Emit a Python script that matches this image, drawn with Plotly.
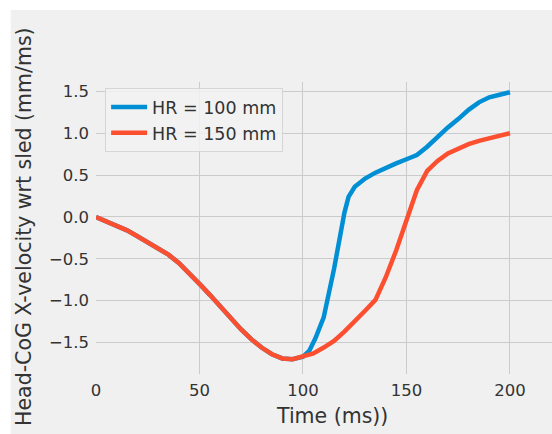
import plotly.graph_objects as go

# ---- data ----
t_red = [0, 5, 10, 15, 20, 25, 30, 35, 40, 45, 50, 55, 60, 65, 70, 75, 80, 85, 90, 95,
         100, 105, 110, 115, 120, 125, 130, 135, 140, 145, 150, 155, 160, 165, 170, 175,
         180, 185, 190, 195, 200]
v_red = [0.00, -0.05, -0.10, -0.16, -0.23, -0.30, -0.37, -0.45, -0.55, -0.67, -0.80, -0.93,
         -1.07, -1.21, -1.34, -1.46, -1.56, -1.64, -1.69, -1.70,
         -1.67, -1.63, -1.56, -1.48, -1.37, -1.25, -1.12, -0.99, -0.72, -0.40, -0.04, 0.32,
         0.55, 0.67, 0.76, 0.82, 0.87, 0.91, 0.94, 0.97, 1.00]

t_blue = [0, 5, 10, 15, 20, 25, 30, 35, 40, 45, 50, 55, 60, 65, 70, 75, 80, 85, 90, 95,
          100, 103, 106, 110, 115, 120, 122, 125, 130, 135, 140, 145, 150, 155, 160, 165,
          170, 175, 180, 185, 190, 195, 200]
v_blue = [0.00, -0.05, -0.10, -0.16, -0.23, -0.30, -0.37, -0.45, -0.55, -0.67, -0.80, -0.93,
          -1.07, -1.21, -1.34, -1.46, -1.56, -1.64, -1.69, -1.70,
          -1.67, -1.60, -1.45, -1.20, -0.62, 0.05, 0.24, 0.36, 0.46, 0.53, 0.59, 0.64, 0.69,
          0.74, 0.84, 0.96, 1.07, 1.17, 1.28, 1.37, 1.43, 1.46, 1.49]

series_names = ["HR = 100 mm", "HR = 150 mm"]
x_ticks = [0, 50, 100, 150, 200]
y_ticks = [-1.5, -1.0, -0.5, 0.0, 0.5, 1.0, 1.5]
y_tick_labels = ["\u22121.5", "\u22121.0", "\u22120.5", "0.0", "0.5", "1.0", "1.5"]
x_title = "Time (ms))"
y_title = "Head-CoG X-velocity wrt sled (mm/ms)"

BG = "#f0f0f0"
GRID = "#cbcbcb"
TXT = "#333333"
FONT = "DejaVu Sans"

fig = go.Figure()
fig.add_trace(go.Scatter(x=t_blue, y=v_blue, mode="lines", name=series_names[0],
                         legendgroup="a",
                         line=dict(color="#008fd5", width=4.5)))
fig.add_trace(go.Scatter(x=t_red, y=v_red, mode="lines", name=series_names[1],
                         legendgroup="b",
                         line=dict(color="#fc4f30", width=4.5)))

fig.update_layout(
    width=552, height=434,
    margin=dict(l=96, r=0, t=82, b=60),
    paper_bgcolor=BG, plot_bgcolor=BG,
    font=dict(family=FONT, color=TXT, size=16.5),
    showlegend=True,
    legend=dict(x=0.02, y=0.979, xanchor="left", yanchor="top",
                bgcolor="rgba(242,242,242,0.85)", bordercolor="#d6d6d6", borderwidth=1,
                font=dict(size=17.5, family=FONT, color=TXT),
                tracegroupgap=0, itemwidth=36),
    xaxis=dict(range=[0, 220.3], tickvals=x_ticks, showgrid=False, zeroline=False,
               showline=False, ticks="", ticklabelstandoff=4,
               tickfont=dict(size=16.5, family=FONT, color=TXT),
               minor=dict(tickvals=x_ticks[1:], showgrid=True, gridcolor=GRID,
                          gridwidth=1, ticks="")),
    yaxis=dict(range=[-1.876, 1.613], tickvals=y_ticks, ticktext=y_tick_labels,
               showgrid=True, gridcolor=GRID, gridwidth=1, zeroline=False,
               showline=False, ticks="", ticklabelstandoff=6,
               tickfont=dict(size=16.5, family=FONT, color=TXT)),
    annotations=[
        dict(text=x_title, xref="paper", yref="paper", x=0.5175, y=-0.144,
             xanchor="center", yanchor="middle", showarrow=False,
             font=dict(size=20.5, family=FONT, color=TXT)),
        dict(text=y_title, xref="paper", yref="paper", x=-0.158, y=0.507,
             xanchor="center", yanchor="middle", showarrow=False, textangle=-90,
             font=dict(size=20.5, family=FONT, color=TXT)),
    ],
    shapes=[
        dict(type="rect", xref="paper", yref="paper", x0=-0.22, x1=-0.187,
             y0=-0.3, y1=1.3, fillcolor="white", line=dict(width=0), layer="below"),
        dict(type="rect", xref="paper", yref="paper", x0=-0.22, x1=1.05,
             y0=1.2466, y1=1.3, fillcolor="white", line=dict(width=0), layer="below"),
    ],
)

fig.write_html("out.html",
               config={"displayModeBar": False},
               post_script="document.body.style.margin='0';document.body.style.padding='0';")
